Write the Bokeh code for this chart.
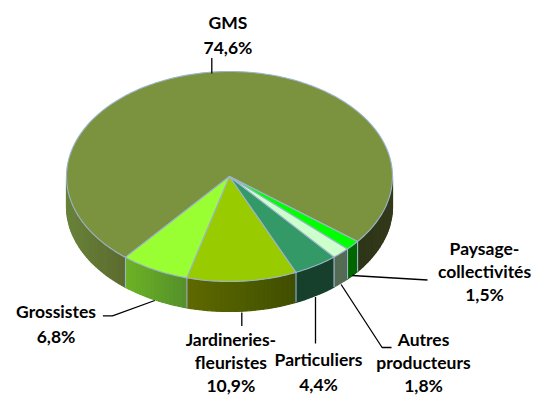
import math
from bokeh.plotting import figure
from bokeh.models import Range1d
from bokeh.core.properties import value
from bokeh.embed import file_html
from bokeh.resources import INLINE

# --- data ---
categories = ["GMS", "Grossistes", "Jardineries-fleuristes", "Particuliers", "Autres producteurs", "Paysage-collectivités"]
shares = [74.6, 6.8, 10.9, 4.4, 1.8, 1.5]
share_labels = ["74,6%", "6,8%", "10,9%", "4,4%", "1,8%", "1,5%"]

# --- styles ---
top_colors = ["#7B933F", "#99FF33", "#99CC00", "#339966", "#CCFFCC", "#00FF00"]
wall_left = ["#69823A", "#6DB325", "#5F6A00", "#17402C", "#556B55", "#006600"]
wall_right = ["#5B6B2E", "#55902B", "#404F00", "#17402C", "#556B55", "#006600"]
wall_right_gms = ("#333A1A", "#2E3418")
edge = "#9DB4CE"

W, H = 535, 396
CX, CY, RX, RY, DEPTH = 229, 176, 163, 105, 30
START = 51.8

p = figure(width=W, height=H, output_backend="svg", toolbar_location=None,
           x_range=Range1d(0, W), y_range=Range1d(H, 0), min_border=0)
p.axis.visible = False
p.grid.visible = False
p.outline_line_color = None
p.background_fill_color = "white"


def pt(t, dy=0.0):
    r = math.radians(t)
    return CX + RX * math.sin(r), CY + RY * math.cos(r) + dy


def mix(c1, c2, f):
    a = [int(c1[i:i + 2], 16) for i in (1, 3, 5)]
    b = [int(c2[i:i + 2], 16) for i in (1, 3, 5)]
    return "#%02x%02x%02x" % tuple(round(u + (v - u) * f) for u, v in zip(a, b))


def arange(a, b, step=1.0):
    n = max(1, int(abs(b - a) / step))
    return [a + (b - a) * i / n for i in range(n + 1)]


bounds = [START]
for s in shares:
    bounds.append(bounds[-1] + s * 3.6)

# walls drawn as thin strips so that they shade from left to right
xs, ys, cs = [], [], []


def wall(a, b, c_a, c_b):
    ts = arange(a, b, 1.5)
    xa, xb = pt(a)[0], pt(b)[0]
    for t0, t1 in zip(ts[:-1], ts[1:]):
        x0, y0 = pt(t0)
        x1, y1 = pt(t1)
        xs.append([x0, x1, x1, x0])
        ys.append([y0, y1, y1 + DEPTH, y0 + DEPTH])
        f = ((x0 + x1) / 2 - xa) / (xb - xa) if xb != xa else 0
        cs.append(mix(c_a, c_b, f))


# GMS wall: right part then left part of the front of the drum
wall(90, START, *wall_right_gms)
wall(270, bounds[1], wall_left[0], wall_right[0])
for i in range(1, len(shares)):
    wall(bounds[i], bounds[i + 1], wall_left[i], wall_right[i])
p.patches(xs, ys, fill_color=cs, line_color=cs, line_width=1.2)

# wall separators
for b in bounds[:-1]:
    t = b % 360
    if t > 180:
        t -= 360
    if abs(t) < 90:
        x, y = pt(t)
        p.line([x, x], [y, y + DEPTH], line_color=edge, line_width=1.1)

# top faces
for i in range(len(shares)):
    ts = arange(bounds[i], bounds[i + 1], 1.0)
    px = [CX] + [pt(t)[0] for t in ts]
    py = [CY] + [pt(t)[1] for t in ts]
    p.patch(px, py, fill_color=top_colors[i], line_color=edge, line_width=1.1, line_join="round")

# leader lines
leaders = [
    ([211.3, 211.3], [57.5, 73]),
    ([102.4, 112, 154.3], [315.3, 315.3, 300]),
    ([241.3, 241.3], [312, 325.6]),
    ([315, 315], [296.5, 343]),
    ([340.6, 381.6, 391], [284, 347, 347]),
    ([351.5, 427], [275, 279.5]),
]
for lx, ly in leaders:
    p.line(lx, ly, line_color="black", line_width=1.3)

# labels: each category split on lines as in the picture
label_lines = [
    (["GMS"], 227.5, 21.7),
    (["Grossistes"], 55.5, 311),
    (["Jardineries-", "fleuristes"], 230.4, 339),
    (["Particuliers"], 318, 359),
    (["Autres", "producteurs"], 423, 339),
    (["Paysage-", "collectivités"], 484, 247.7),
]
tx, ty, tt = [], [], []
for (lines, x, y), pct in zip(label_lines, share_labels):
    n = len(lines) + 1
    step = 23 if n == 3 else 25
    for k, s in enumerate(lines + [pct]):
        tx.append(x)
        ty.append(y + step * k)
        tt.append(s)
p.text(tx, ty, text=tt, text_font=value("Lato"), text_font_style="bold", text_font_size="17.5px",
       text_color="black", text_align="center", text_baseline="middle")

open("out.html", "w").write(file_html(p, INLINE))
